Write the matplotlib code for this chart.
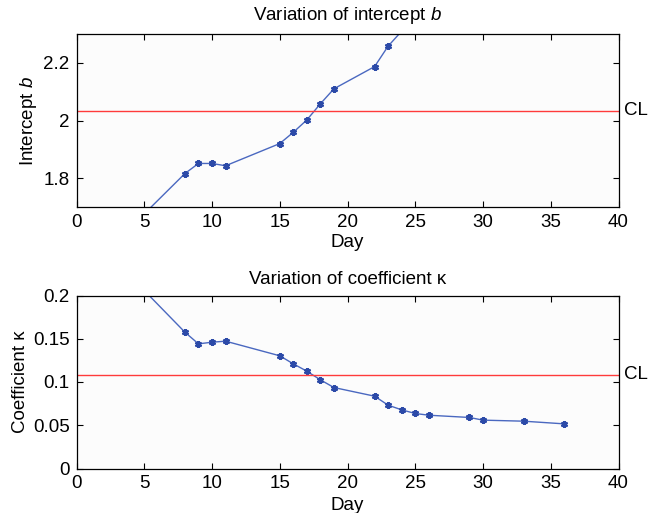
import matplotlib
matplotlib.use("Agg")
import matplotlib.pyplot as plt

plt.rcParams["font.family"] = ["Liberation Sans", "DejaVu Sans"]
plt.rcParams["mathtext.fontset"] = "custom"
plt.rcParams["mathtext.rm"] = "Liberation Sans"
plt.rcParams["mathtext.it"] = "Liberation Sans:italic"

# data
days = [1, 8, 9, 10, 11, 15, 16, 17, 18, 19, 22, 23, 24, 25, 26, 29, 30, 33, 36]
intercept_b = [1.49, 1.816, 1.851, 1.851, 1.843, 1.920, 1.959, 2.002, 2.058, 2.110,
               2.187, 2.258, 2.31, 2.34, 2.36, 2.39, 2.41, 2.44, 2.47]
coef_k = [0.27, 0.1576, 0.1441, 0.1460, 0.1472, 0.1303, 0.1210, 0.1125, 0.1025, 0.0936,
          0.0836, 0.0732, 0.0678, 0.0636, 0.0616, 0.0590, 0.0559, 0.0547, 0.0516]
cl_b = 2.033
cl_k = 0.1083

x_ticks = [0, 5, 10, 15, 20, 25, 30, 35, 40]
b_ticks = [1.8, 2.0, 2.2]
b_ticklabels = ["1.8", "2", "2.2"]
k_ticks = [0, 0.05, 0.1, 0.15, 0.2]
k_ticklabels = ["0", "0.05", "0.1", "0.15", "0.2"]

W, H = 659, 513
FS = 13.5
fig = plt.figure(figsize=(W / 100, H / 100), dpi=100)

line_col = "#4a68c0"
mark_col = "#2c4aa8"
red = "#ff3b3b"


def make_axes(rect, y, cl, ylim, yticks, yticklabels, title, ylabel, tpad, xpad):
    l, t, r, b = rect
    ax = fig.add_axes([l / W, 1 - b / H, (r - l) / W, (b - t) / H])
    ax.set_facecolor("#fcfcfc")
    ax.plot(days, y, color=line_col, lw=1.0, marker=(6, 2, 0), ms=5,
            mec=mark_col, mew=1.6, clip_on=True)
    ax.axhline(cl, color=red, lw=1.0)
    ax.set_xlim(0, 40)
    ax.set_ylim(*ylim)
    ax.set_xticks(x_ticks)
    ax.set_yticks(yticks)
    ax.set_yticklabels(yticklabels)
    ax.tick_params(direction="in", top=True, right=True, length=4,
                   labelsize=FS, pad=5)
    for s in ax.spines.values():
        s.set_linewidth(0.9)
    ax.set_title(title, fontsize=FS, pad=tpad)
    ax.set_xlabel("Day", fontsize=FS, labelpad=xpad)
    ax.set_ylabel(ylabel, fontsize=FS, labelpad=3)
    ax.text(1.01, cl, "CL", transform=ax.get_yaxis_transform(),
            fontsize=FS, va="center", ha="left")
    return ax


make_axes((76.5, 34, 618.5, 207), intercept_b, cl_b, (1.7, 2.3), b_ticks,
          b_ticklabels, "Variation of intercept $b$", "Intercept $b$", 10, 2)
make_axes((76.5, 295.5, 618.5, 468.5), coef_k, cl_k, (0, 0.2), k_ticks,
          k_ticklabels, "Variation of coefficient \u03ba", "Coefficient \u03ba", 8, 3)

fig.savefig("out.png", dpi=100, facecolor="white")
